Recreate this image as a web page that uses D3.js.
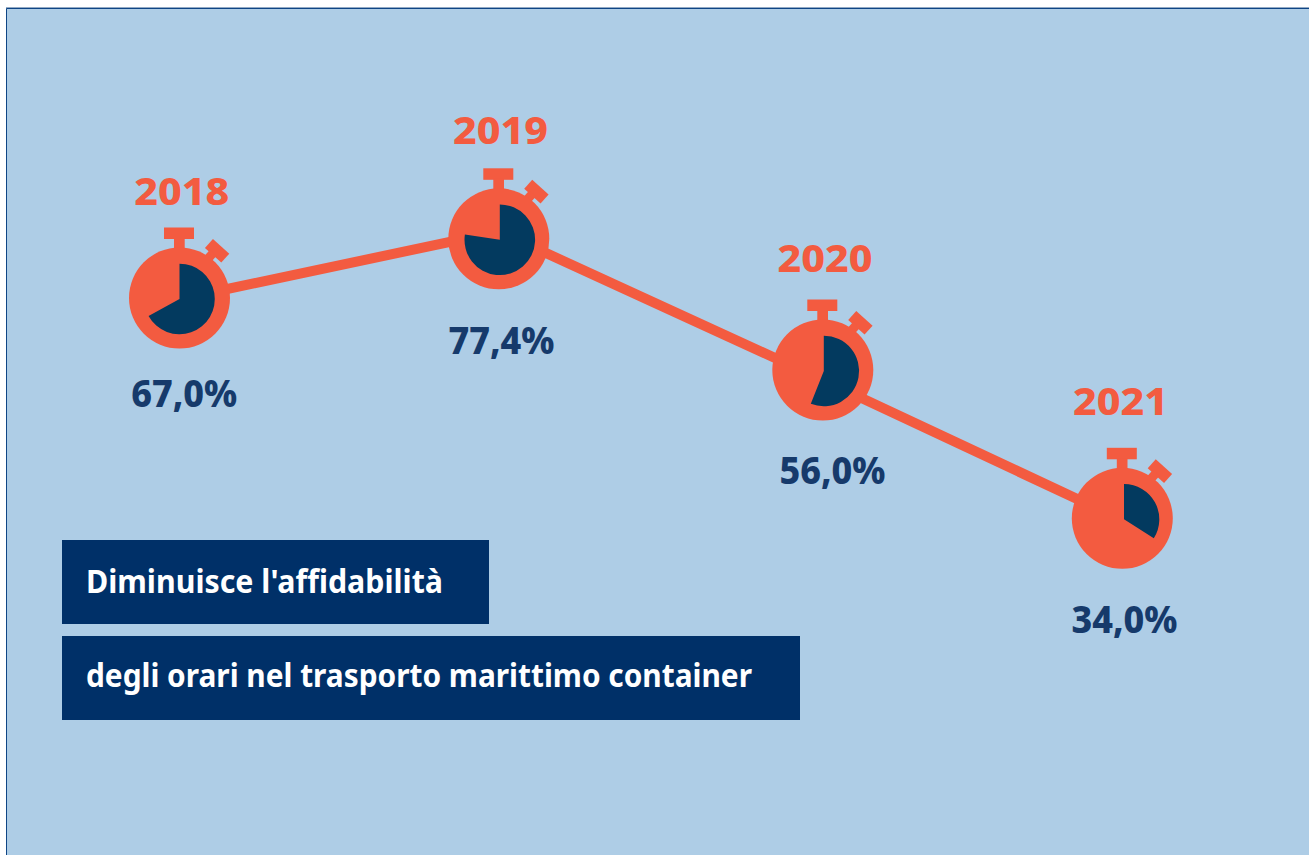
<!DOCTYPE html>
<html><head><meta charset="utf-8">
<script src="https://cdn.jsdelivr.net/npm/d3@7"></script>
<style>html,body{margin:0;padding:0;background:#fff;overflow:hidden}svg{display:block}</style>
</head><body><div id="c"></div>
<script>
const years = ["2018","2019","2020","2021"];
const values = [67.0,77.4,56.0,34.0];
const valueLabels = ["67,0%","77,4%","56,0%","34,0%"];
const titleLines = ["Diminuisce l'affidabilità","degli orari nel trasporto marittimo container"];

const W=1309,H=855;
const FONT="'Noto Sans',sans-serif";
const orange="#f35b40",navy="#033a5f",boxBlue="#003068",labelBlue="#163a6b",bg="#aecde6";
const svg=d3.select("#c").append("svg").attr("width",W).attr("height",H);
svg.append("rect").attr("x",6).attr("y",8).attr("width",W-6).attr("height",H-8).attr("fill",bg);
svg.append("rect").attr("x",6).attr("y",7).attr("width",W-6).attr("height",1).attr("fill","#93aac4");
svg.append("path").attr("d",`M6.5 855V8.5H${W}`).attr("fill","none").attr("stroke","#0f4585").attr("stroke-width",1);

// line scales
const lineX=d3.scaleOrdinal().domain(years).range([180,499,823,1122]);
const lineY=d3.scaleLinear().domain([34,56,67,77.4]).range([520,380,299,231.5]);
// stopwatch marker scales
const markX=d3.scaleOrdinal().domain(years).range([179.5,498.8,822.8,1122.3]);
const markY=d3.scaleLinear().domain([34,56,67,77.4]).range([518.3,370,298,238.8]);
const pieDx=d3.scaleOrdinal().domain(years).range([0,1,1,1.7]);
// label scales
const yearX=d3.scaleOrdinal().domain(years).range([181.7,500.5,825,1120.5]);
const yearY=d3.scaleOrdinal().domain(years).range([205,143.5,271.5,415]);
const pctX=d3.scaleOrdinal().domain(years).range([184.2,501.5,832.5,1124.4]);
const pctY=d3.scaleOrdinal().domain(years).range([407,354,484,633]);

const pts=years.map((yr,i)=>({yr,v:values[i],label:valueLabels[i]}));

svg.append("path").datum(pts).attr("fill","none").attr("stroke",orange).attr("stroke-width",10)
 .attr("d",d3.line().x(d=>lineX(d.yr)).y(d=>lineY(d.v)));

const arc=d3.arc().innerRadius(0).outerRadius(35.3).startAngle(0);
const g=svg.selectAll("g.m").data(pts).join("g").attr("class","m").attr("transform",d=>`translate(${markX(d.yr)},${markY(d.v)})`);
g.append("rect").attr("x",-15.5).attr("y",-70.5).attr("width",30).attr("height",11.5).attr("fill",orange);
g.append("rect").attr("x",-5.5).attr("y",-60).attr("width",10.7).attr("height",14).attr("fill",orange);
const k=g.append("g").attr("transform","translate(37.6,-47.2) rotate(42)");
k.append("rect").attr("x",-11).attr("y",-6).attr("width",22).attr("height",12).attr("fill",orange);
k.append("rect").attr("x",-6).attr("y",4).attr("width",9).attr("height",10).attr("fill",orange);
g.append("circle").attr("r",50.5).attr("fill",orange);
g.append("path").attr("transform",d=>`translate(${pieDx(d.yr)},1)`).attr("fill",navy).attr("d",d=>arc({endAngle:d.v/100*2*Math.PI}));

const label=(sel)=>sel.attr("text-anchor","middle").attr("font-family",FONT).attr("font-weight",800).attr("font-size",38).attr("lengthAdjust","spacingAndGlyphs");
svg.selectAll("text.year").data(pts).join("text").attr("class","year").call(label)
 .attr("x",d=>yearX(d.yr)).attr("y",d=>yearY(d.yr)).attr("textLength",95).attr("fill",orange).text(d=>d.yr);
svg.selectAll("text.pct").data(pts).join("text").attr("class","pct").call(label)
 .attr("x",d=>pctX(d.yr)).attr("y",d=>pctY(d.yr)).attr("textLength",106).attr("fill",labelBlue).text(d=>d.label);

const boxes=[[62,540,427,84,86,593.3,357],[62,636,738,84,86,686.7,666]];
titleLines.forEach((t,i)=>{const b=boxes[i];
 svg.append("rect").attr("x",b[0]).attr("y",b[1]).attr("width",b[2]).attr("height",b[3]).attr("fill",boxBlue);
 svg.append("text").attr("x",b[4]).attr("y",b[5]).attr("font-family",FONT).attr("font-weight",700).attr("font-size",31.5)
  .attr("textLength",b[6]).attr("lengthAdjust","spacingAndGlyphs").attr("fill","#fff").text(t);
});
</script></body></html>
